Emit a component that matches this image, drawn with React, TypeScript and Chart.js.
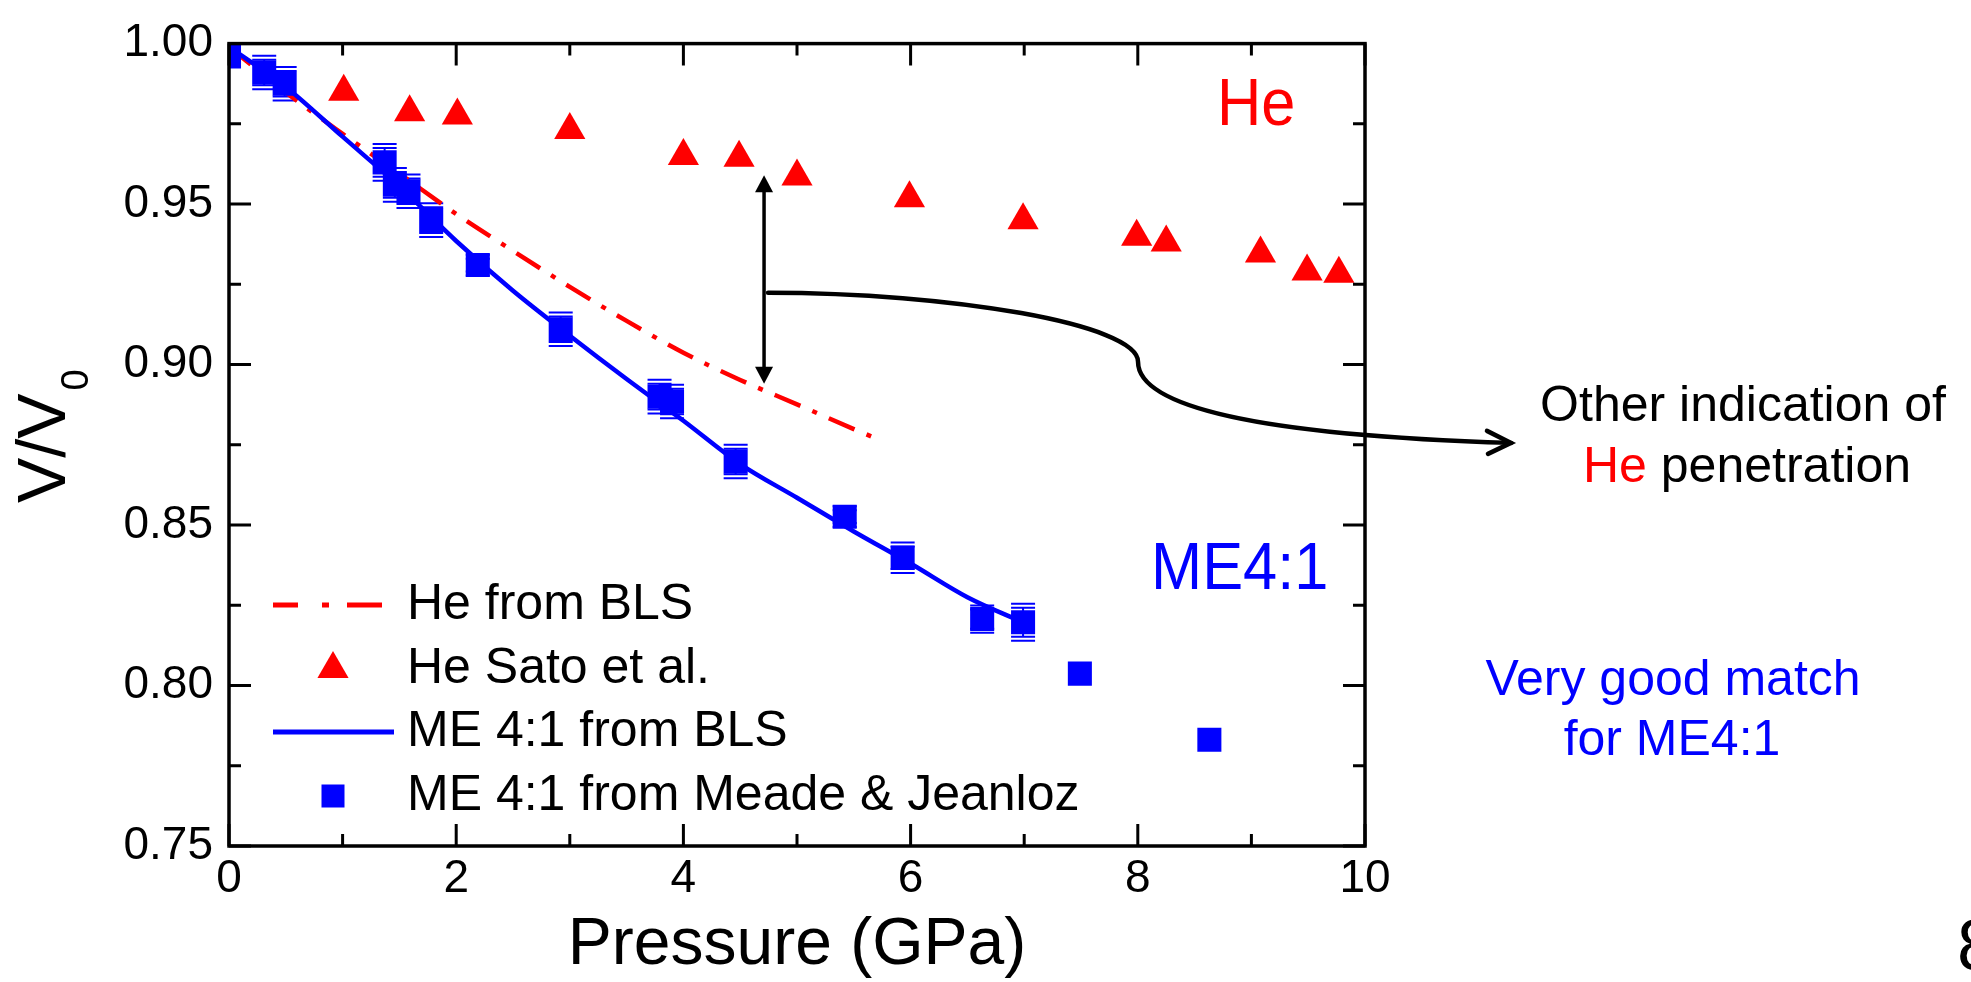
import React, { useEffect, useRef } from "react";
import { Chart, registerables } from "chart.js";

Chart.register(...registerables);

const W = 1971;
const H = 982;
const FONT = "'Liberation Sans', Arial, Helvetica, sans-serif";
const RED = "#ff0000";
const BLUE = "#0000ff";
const BLACK = "#000000";

// ---------------- data ----------------
// He from BLS (dash-dot red curve)
const heBlsPressure = [0, 0.5, 1, 1.5, 2, 2.5, 3, 3.5, 4, 4.5, 5, 5.5, 5.75];
const heBlsVolume = [0.999, 0.9848, 0.9719, 0.9595, 0.9469, 0.9354, 0.9242, 0.9136, 0.9037, 0.8952, 0.8876, 0.8799, 0.8762];

// He, Sato et al. (red triangles)
const heSatoPressure = [1.01, 1.59, 2.01, 3.0, 4.0, 4.49, 5.0, 5.99, 6.99, 7.99, 8.25, 9.08, 9.49, 9.77];
const heSatoVolume = [0.985, 0.9786, 0.9776, 0.9731, 0.965, 0.9644, 0.9586, 0.9518, 0.945, 0.9398, 0.938, 0.9346, 0.929, 0.9283];

// ME 4:1 from BLS (solid blue curve)
const meBlsPressure = [0, 0.5, 1, 1.5, 2, 2.5, 3, 3.5, 4, 4.5, 5, 5.5, 6, 6.5, 7.0];
const meBlsVolume = [0.999, 0.9865, 0.971, 0.9555, 0.9385, 0.923, 0.909, 0.8955, 0.8825, 0.869, 0.8585, 0.848, 0.838, 0.8275, 0.8195];

// ME 4:1 from Meade & Jeanloz (blue squares with error bars)
const meMJPressure = [0.0, 0.31, 0.49, 1.37, 1.46, 1.58, 1.78, 2.19, 2.92, 3.79, 3.9, 4.46, 5.42, 5.93, 6.63, 6.99, 7.49, 8.63];
const meMJVolume = [0.996, 0.991, 0.9875, 0.963, 0.956, 0.954, 0.945, 0.931, 0.911, 0.89, 0.8885, 0.8698, 0.8526, 0.8398, 0.8207, 0.8197, 0.8037, 0.7831];
const meMJError = [0.002, 0.004, 0.004, 0.0045, 0.004, 0.004, 0.004, 0.002, 0.004, 0.004, 0.004, 0.004, 0.002, 0.0035, 0.003, 0.0045, 0, 0];

// ticks
const xTickValues = [0, 2, 4, 6, 8, 10];
const xTickLabels = ["0", "2", "4", "6", "8", "10"];
const xMinorTicks = [1, 3, 5, 7, 9];
const yTickValues = [0.75, 0.8, 0.85, 0.9, 0.95, 1.0];
const yTickLabels = ["0.75", "0.80", "0.85", "0.90", "0.95", "1.00"];
const yMinorTicks = [0.775, 0.825, 0.875, 0.925, 0.975];

const legendLabels = ["He from BLS", "He Sato et al.", "ME 4:1 from BLS", "ME 4:1 from Meade & Jeanloz"];

// annotation anchors (data units)
const gapArrowP = 4.71;
const gapArrowTopV = 0.959;
const gapArrowBottomV = 0.894;
const connectorPath: [number, number][] = [
  [4.745, 0.9224],
  [6.347, 0.9224],
  [8.002, 0.9126],
  [8.002, 0.9009],
  [8.002, 0.8873],
  [8.988, 0.8781],
  [11.285, 0.8756],
];

const toPoints = (xs: number[], ys: number[]) => xs.map((x, i) => ({ x, y: ys[i] }));

const annotationPlugin = {
  id: "figureExtras",
  beforeDatasetsDraw(chart: any) {
    const ctx = chart.ctx as CanvasRenderingContext2D;
    const xs = chart.scales.x;
    const ys = chart.scales.y;
    const area = chart.chartArea;
    ctx.save();
    ctx.beginPath();
    ctx.rect(area.left, area.top, area.right - area.left, area.bottom - area.top);
    ctx.clip();
    ctx.strokeStyle = BLUE;
    ctx.lineWidth = 2;
    meMJPressure.forEach((p, i) => {
      const e = meMJError[i];
      if (!e) return;
      const x = xs.getPixelForValue(p);
      const yU = ys.getPixelForValue(meMJVolume[i] + e);
      const yD = ys.getPixelForValue(meMJVolume[i] - e);
      const hw = 12;
      ctx.beginPath();
      ctx.moveTo(x, yU);
      ctx.lineTo(x, yD);
      [yU, yU - 4, yD, yD + 4].forEach((yy) => {
        ctx.moveTo(x - hw, yy);
        ctx.lineTo(x + hw, yy);
      });
      ctx.stroke();
    });
    ctx.restore();
  },
  afterDatasetsDraw(chart: any) {
    const ctx = chart.ctx as CanvasRenderingContext2D;
    const xs = chart.scales.x;
    const ys = chart.scales.y;
    const { left, right, top, bottom } = chart.chartArea;
    const X = (p: number) => xs.getPixelForValue(p);
    const Y = (v: number) => ys.getPixelForValue(v);

    ctx.save();
    // frame
    ctx.strokeStyle = BLACK;
    ctx.lineWidth = 3.5;
    ctx.strokeRect(left, top, right - left, bottom - top);

    // inward ticks on all four sides
    const major = 22;
    const minor = 12;
    ctx.lineWidth = 3;
    ctx.beginPath();
    const xt = (vals: number[], len: number) =>
      vals.forEach((v) => {
        const x = X(v);
        ctx.moveTo(x, bottom);
        ctx.lineTo(x, bottom - len);
        ctx.moveTo(x, top);
        ctx.lineTo(x, top + len);
      });
    const yt = (vals: number[], len: number) =>
      vals.forEach((v) => {
        const y = Y(v);
        ctx.moveTo(left, y);
        ctx.lineTo(left + len, y);
        ctx.moveTo(right, y);
        ctx.lineTo(right - len, y);
      });
    xt(xTickValues, major);
    xt(xMinorTicks, minor);
    yt(yTickValues, major);
    yt(yMinorTicks, minor);
    ctx.stroke();

    // legend (inside plot, bottom-left)
    const rows = [605, 669, 732, 796];
    const textX = 407;
    const markX = 333;
    ctx.font = `50px ${FONT}`;
    ctx.textBaseline = "middle";
    ctx.textAlign = "left";
    ctx.fillStyle = BLACK;
    legendLabels.forEach((t, i) => ctx.fillText(t, textX, rows[i]));
    // row 1: dash-dot red
    ctx.strokeStyle = RED;
    ctx.lineWidth = 5;
    ctx.beginPath();
    ctx.moveTo(273, rows[0]);
    ctx.lineTo(298, rows[0]);
    ctx.moveTo(322, rows[0]);
    ctx.lineTo(329, rows[0]);
    ctx.moveTo(347, rows[0]);
    ctx.lineTo(382, rows[0]);
    ctx.stroke();
    // row 2: triangle
    const r = 18;
    ctx.fillStyle = RED;
    ctx.beginPath();
    ctx.moveTo(markX, rows[1] - r);
    ctx.lineTo(markX + (r * Math.sqrt(3)) / 2, rows[1] + r / 2);
    ctx.lineTo(markX - (r * Math.sqrt(3)) / 2, rows[1] + r / 2);
    ctx.closePath();
    ctx.fill();
    // row 3: blue line
    ctx.strokeStyle = BLUE;
    ctx.lineWidth = 5;
    ctx.beginPath();
    ctx.moveTo(273, rows[2]);
    ctx.lineTo(394, rows[2]);
    ctx.stroke();
    // row 4: square
    ctx.fillStyle = BLUE;
    ctx.fillRect(markX - 11.5, rows[3] - 11.5, 23, 23);

    // in-plot labels
    ctx.textBaseline = "alphabetic";
    ctx.font = `66px ${FONT}`;
    ctx.save();
    ctx.translate(1217, 125);
    ctx.scale(0.93, 1);
    ctx.fillStyle = RED;
    ctx.fillText("He", 0, 0);
    ctx.restore();
    ctx.save();
    ctx.translate(1151, 589);
    ctx.scale(0.93, 1);
    ctx.fillStyle = BLUE;
    ctx.fillText("ME4:1", 0, 0);
    ctx.restore();

    // vertical double arrow between the He curves
    const ax = X(gapArrowP);
    const ay1 = Y(gapArrowTopV);
    const ay2 = Y(gapArrowBottomV);
    ctx.strokeStyle = BLACK;
    ctx.fillStyle = BLACK;
    ctx.lineWidth = 3.5;
    ctx.beginPath();
    ctx.moveTo(ax, ay1 + 12);
    ctx.lineTo(ax, ay2 - 12);
    ctx.stroke();
    ctx.beginPath();
    ctx.moveTo(ax, ay1);
    ctx.lineTo(ax - 9, ay1 + 17);
    ctx.lineTo(ax + 9, ay1 + 17);
    ctx.closePath();
    ctx.fill();
    ctx.beginPath();
    ctx.moveTo(ax, ay2);
    ctx.lineTo(ax - 9, ay2 - 17);
    ctx.lineTo(ax + 9, ay2 - 17);
    ctx.closePath();
    ctx.fill();

    // curved connector to the side note
    const cp = connectorPath.map(([p, v]) => [X(p), Y(v)]);
    ctx.lineWidth = 4.5;
    ctx.lineCap = "round";
    ctx.beginPath();
    ctx.moveTo(cp[0][0], cp[0][1]);
    ctx.bezierCurveTo(cp[1][0], cp[1][1], cp[2][0], cp[2][1], cp[3][0], cp[3][1]);
    ctx.bezierCurveTo(cp[4][0], cp[4][1], cp[5][0], cp[5][1], cp[6][0], cp[6][1]);
    ctx.stroke();
    const tip = cp[6];
    ctx.beginPath();
    ctx.moveTo(tip[0] - 24, tip[1] - 12);
    ctx.lineTo(tip[0], tip[1]);
    ctx.lineTo(tip[0] - 23, tip[1] + 11);
    ctx.stroke();

    // side notes
    ctx.font = `50px ${FONT}`;
    ctx.textBaseline = "middle";
    ctx.textAlign = "center";
    ctx.fillStyle = BLACK;
    ctx.fillText("Other indication of", 1743, 407);
    const t1 = "He";
    const t2 = " penetration";
    const w1 = ctx.measureText(t1).width;
    const w2 = ctx.measureText(t2).width;
    const sx = 1747 - (w1 + w2) / 2;
    ctx.textAlign = "left";
    ctx.fillStyle = RED;
    ctx.fillText(t1, sx, 468);
    ctx.fillStyle = BLACK;
    ctx.fillText(t2, sx + w1, 468);
    ctx.textAlign = "center";
    ctx.fillStyle = BLUE;
    ctx.fillText("Very good match", 1673, 681);
    ctx.fillText("for ME4:1", 1672, 741);

    // y-axis title V/V0 with subscript
    ctx.fillStyle = BLACK;
    ctx.textAlign = "left";
    ctx.textBaseline = "alphabetic";
    ctx.save();
    ctx.translate(65, 503);
    ctx.rotate(-Math.PI / 2);
    ctx.font = `68px ${FONT}`;
    ctx.fillText("V/V", 0, 0);
    const vw = ctx.measureText("V/V").width;
    ctx.font = `38px ${FONT}`;
    ctx.fillText("0", vw + 3, 23);
    ctx.restore();

    // page number (cut at the right edge)
    ctx.font = `72px ${FONT}`;
    ctx.fillText("8", 1957, 970);

    ctx.restore();
  },
};

export default function App() {
  const ref = useRef<HTMLCanvasElement>(null);

  useEffect(() => {
    document.body.style.margin = "0";
    document.body.style.overflow = "hidden";
    const canvas = ref.current;
    if (!canvas) return;
    Chart.defaults.font.family = FONT;
    Chart.defaults.color = BLACK;

    const chart = new Chart(canvas, {
      type: "scatter",
      data: {
        datasets: [
          {
            label: legendLabels[0],
            data: toPoints(heBlsPressure, heBlsVolume),
            showLine: true,
            borderColor: RED,
            borderWidth: 4.5,
            borderDash: [28, 13, 5, 13],
            pointRadius: 0,
            cubicInterpolationMode: "monotone",
            order: 3,
          },
          {
            label: legendLabels[1],
            data: toPoints(heSatoPressure, heSatoVolume),
            showLine: false,
            pointStyle: "triangle",
            pointRadius: 18,
            pointBackgroundColor: RED,
            pointBorderColor: RED,
            pointBorderWidth: 0,
            order: 1,
          },
          {
            label: legendLabels[2],
            data: toPoints(meBlsPressure, meBlsVolume),
            showLine: true,
            borderColor: BLUE,
            borderWidth: 4.5,
            pointRadius: 0,
            cubicInterpolationMode: "monotone",
            order: 2,
          },
          {
            label: legendLabels[3],
            data: toPoints(meMJPressure, meMJVolume),
            showLine: false,
            pointStyle: "rect",
            pointRadius: 17,
            pointBackgroundColor: BLUE,
            pointBorderColor: BLUE,
            pointBorderWidth: 0,
            clip: 0,
            order: 0,
          },
        ],
      } as any,
      options: {
        responsive: false,
        animation: false,
        devicePixelRatio: 1,
        events: [],
        layout: { padding: { left: 0, top: 34, right: W - 1365, bottom: 0 } },
        plugins: { legend: { display: false }, tooltip: { enabled: false }, title: { display: false } },
        scales: {
          x: {
            type: "linear",
            min: 0,
            max: 10,
            afterBuildTicks: (s: any) => {
              s.ticks = xTickValues.map((value) => ({ value }));
            },
            ticks: {
              font: { size: 46, family: FONT },
              color: BLACK,
              padding: 6,
              maxRotation: 0,
              autoSkip: false,
              callback: (_v: any, i: number) => xTickLabels[i],
            },
            grid: { display: false, drawTicks: false },
            border: { display: false },
            title: {
              display: true,
              text: "Pressure (GPa)",
              color: BLACK,
              font: { size: 66, family: FONT, lineHeight: 1.1 },
              padding: 0,
            },
            afterFit: (s: any) => {
              s.height = 136;
            },
          },
          y: {
            type: "linear",
            min: 0.75,
            max: 1.0,
            afterBuildTicks: (s: any) => {
              s.ticks = yTickValues.map((value) => ({ value }));
            },
            ticks: {
              font: { size: 46, family: FONT },
              color: BLACK,
              padding: 16,
              autoSkip: false,
              callback: (_v: any, i: number) => yTickLabels[i],
            },
            grid: { display: false, drawTicks: false },
            border: { display: false },
            afterFit: (s: any) => {
              s.width = 229;
            },
          },
        },
      } as any,
      plugins: [annotationPlugin],
    });

    return () => chart.destroy();
  }, []);

  return <canvas ref={ref} width={W} height={H} style={{ display: "block", width: W, height: H }} />;
}
